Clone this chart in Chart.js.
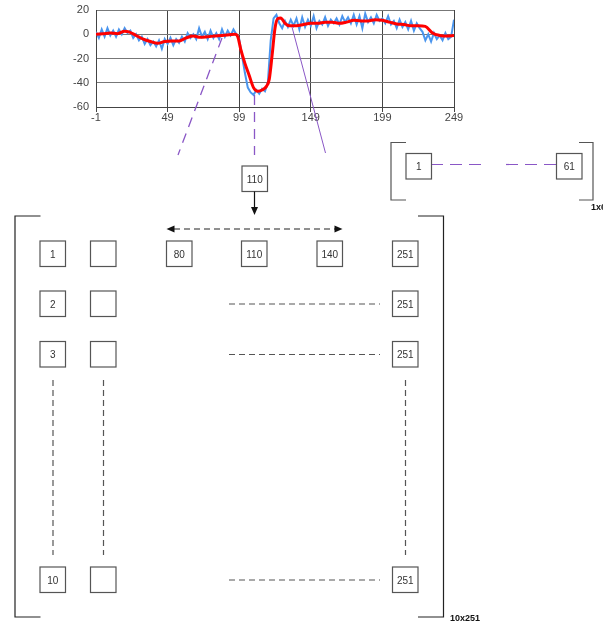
<!DOCTYPE html>
<html>
<head>
<meta charset="utf-8">
<script src="https://cdn.jsdelivr.net/npm/chart.js@4.4.0/dist/chart.umd.min.js"></script>
<style>
  body { margin: 0; background: #fff; }
  #lienzo { position: relative; width: 603px; height: 623px; overflow: hidden; }
  #grafico { position: absolute; left: 0; top: 0; }
  #diagrama { position: absolute; left: 0; top: 0; }
</style>
</head>
<body>
<div id="lienzo">
  <canvas id="grafico" width="603" height="125"></canvas>
  <svg id="diagrama" width="603" height="623" xmlns="http://www.w3.org/2000/svg"></svg>
</div>
<script>
//Datos del grafico
const ticksX = [-1, 49, 99, 149, 199, 249];
const ticksY = [-60, -40, -20, 0, 20];

// senal azul, una muestra cada 2 unidades empezando en -1
const senalInicio = -1;
const senalPaso = 2;
const senalAzul = [
  2, -3, 4, -2, 5, -1, 3, -2, 4, 0,
  5, 1, 3, -3, 0, -5, -2, -8, -4, -9,
  -6, -10, -5, -12, -4, -8, -3, -9, -4, -7,
  -2, -6, 1, -3, 0, -4, 5, -2, 2, -4,
  3, -3, 1, -4, 4, -2, 3, -1, 4, 0,
  -4, -18, -32, -44, -48, -50, -46, -49, -45, -47,
  -40, -5, 13, 16, 9, 5, 11, 6, 12, 7,
  13, 4, 14, 6, 12, 7, 15, 5, 11, 8,
  14, 7, 12, 9, 13, 8, 15, 10, 14, 9,
  16, 8, 15, 5, 17, 10, 14, 9, 16, 11,
  13, 9, 15, 8, 11, 5, 12, 6, 10, 4,
  11, 3, 9, 5, 2, -5, 0, -6, 1, -4,
  -1, -5, 1, -4, -2, 12
];

// media roja (suavizada)
const mediaX = [-1, 4, 9, 14, 19, 22, 27, 32, 37, 42, 47, 52, 57, 62, 67, 72, 77, 82, 87, 92, 96,
  98, 100, 103, 106, 109, 112, 115, 118, 120, 122, 124, 126, 128, 131, 134, 139, 144, 149, 154,
  159, 164, 169, 174, 179, 184, 189, 194, 199, 204, 209, 214, 219, 224, 229, 234, 239, 244, 249];
const mediaY = [0, 0.5, 1, 0.5, 2.5, 2, -1, -4, -6, -7.5, -6, -5.5, -5.5, -3, -1.5, -2.5, -2, -1.5, -1, -0.5, 0,
  -2, -12, -24, -34, -44, -47, -46, -43, -37, -17, 5, 13, 13.5, 9, 7, 7, 8, 9, 9,
  10, 10, 9, 10, 11.5, 11, 11, 12, 11.5, 10, 8.5, 8, 7, 7, 6.5, 1, -1, -1.5, -1];

//Etiquetas del diagrama
const filasIzq = ['1', '2', '3', '10'];
const filaFinal = '251';
const ventana = ['80', '110', '140'];
const centro = '110';
const grupoChico = ['1', '61'];
const tamGrande = '10x251';
const tamChico = '1x61';

//Grafico
function renderGrafico() {
  const ctx = document.getElementById('grafico').getContext('2d');
  const fuente = { family: "'Liberation Sans', Arial, sans-serif", size: 11 };
  new Chart(ctx, {
    type: 'line',
    data: {
      datasets: [
        {
          label: 'media',
          data: mediaX.map((x, i) => ({ x: x, y: mediaY[i] })),
          borderColor: '#ff0000',
          borderWidth: 3,
          pointRadius: 0,
          tension: 0.3,
          cubicInterpolationMode: 'monotone'
        },
        {
          label: 'senal',
          data: senalAzul.map((y, i) => ({ x: senalInicio + i * senalPaso, y: y })),
          borderColor: '#4a95ee',
          borderWidth: 2,
          pointRadius: 0,
          tension: 0
        }
      ]
    },
    options: {
      responsive: false,
      animation: false,
      layout: { padding: { left: 0, right: 149, top: 10, bottom: 0 } },
      plugins: { legend: { display: false }, tooltip: { enabled: false } },
      scales: {
        x: {
          type: 'linear',
          min: -1,
          max: 249,
          afterBuildTicks: s => { s.ticks = ticksX.map(v => ({ value: v })); },
          afterFit: s => { s.height = 18; s.paddingLeft = 0; s.paddingRight = 0; },
          grid: { color: '#444', lineWidth: 1, tickLength: 5 },
          border: { color: '#444' },
          ticks: { font: fuente, color: '#444', padding: -1, maxRotation: 0 }
        },
        y: {
          min: -60,
          max: 20,
          afterBuildTicks: s => { s.ticks = ticksY.map(v => ({ value: v })); },
          afterFit: s => { s.width = 96; s.paddingTop = 0; s.paddingBottom = 0; },
          grid: { color: '#777', lineWidth: 1, drawTicks: false },
          border: { color: '#444' },
          ticks: { font: fuente, color: '#444', padding: 7 }
        }
      }
    }
  });
}

//Diagrama en svg
const svg = document.getElementById('diagrama');
function el(tag, attrs, texto) {
  const e = document.createElementNS('http://www.w3.org/2000/svg', tag);
  for (const k in attrs) e.setAttribute(k, attrs[k]);
  if (texto !== undefined) e.textContent = texto;
  svg.appendChild(e);
  return e;
}
function linea(x1, y1, x2, y2, color, ancho, guion) {
  const a = { x1: x1, y1: y1, x2: x2, y2: y2, stroke: color, 'stroke-width': ancho };
  if (guion) a['stroke-dasharray'] = guion;
  return el('line', a);
}
function caja(x, y, texto) {
  el('rect', { x: x, y: y, width: 25.5, height: 25.5, fill: '#fff', stroke: '#555', 'stroke-width': 1.2 });
  if (texto) {
    el('text', { x: x + 12.75, y: y + 16.5, 'text-anchor': 'middle', 'font-family': 'Liberation Sans, Arial, sans-serif',
      'font-size': 10, fill: '#333' }, texto);
  }
}
function punta(x, y, dir) {
  // dir: 'izq', 'der', 'abajo'
  let p;
  if (dir === 'izq') p = [x, y, x + 8, y - 3.5, x + 8, y + 3.5];
  else if (dir === 'der') p = [x, y, x - 8, y - 3.5, x - 8, y + 3.5];
  else p = [x, y, x - 3.5, y - 8, x + 3.5, y - 8];
  el('polygon', { points: p.join(' '), fill: '#111' });
}

function renderDiagrama() {
  const morado = '#8a57c6';
  // lineas moradas que salen del grafico
  linea(222, 38, 178, 155, morado, 1.3, '10 7');
  linea(254.5, 95, 254.5, 155, morado, 1.3, '10 7');
  linea(292, 27, 325.5, 153, morado, 1);

  // caja central y flecha
  caja(242, 166, centro);
  linea(254.5, 191.5, 254.5, 208, '#111', 1.2);
  punta(254.5, 215, 'abajo');

  // grupo chico de la derecha
  el('path', { d: 'M406 142.5 H391 V200 H406', fill: 'none', stroke: '#555', 'stroke-width': 1.2 });
  el('path', { d: 'M579 142.5 H593 V200 H579', fill: 'none', stroke: '#555', 'stroke-width': 1.2 });
  linea(431, 164.5, 482, 164.5, morado, 1.2, '12 7');
  linea(506, 164.5, 556.5, 164.5, morado, 1.2, '12 7');
  caja(406, 153.5, grupoChico[0]);
  caja(556.5, 153.5, grupoChico[1]);
  el('text', { x: 591, y: 210, 'font-family': 'Liberation Sans, Arial, sans-serif', 'font-size': 9,
    'font-weight': 'bold', fill: '#111' }, tamChico);

  // corchetes grandes
  el('path', { d: 'M40.5 216 H15 V617 H40.5', fill: 'none', stroke: '#222', 'stroke-width': 1.2 });
  el('path', { d: 'M418 216 H443.5 V617 H418', fill: 'none', stroke: '#222', 'stroke-width': 1.2 });
  el('text', { x: 450, y: 620.5, 'font-family': 'Liberation Sans, Arial, sans-serif', 'font-size': 9,
    'font-weight': 'bold', fill: '#111' }, tamGrande);

  // flecha doble de la ventana
  linea(174, 229, 335, 229, '#222', 1.2, '6 4');
  punta(166.5, 229, 'izq');
  punta(342.5, 229, 'der');

  // filas de cajas
  const filasY = [241, 291, 341.5, 567];
  filasY.forEach((y, i) => {
    caja(40, y, filasIzq[i]);
    caja(90.5, y, '');
    caja(392.5, y, filaFinal);
    if (i > 0) linea(229, y + 13, 380, y + 13, '#555', 1.2, '6 4');
  });
  caja(166.5, 241, ventana[0]);
  caja(241.5, 241, ventana[1]);
  caja(317, 241, ventana[2]);

  // columnas punteadas
  [53, 103.5, 405.5].forEach(x => linea(x, 380, x, 555, '#555', 1.2, '6 4'));
}

renderGrafico();
renderDiagrama();
</script>
</body>
</html>
